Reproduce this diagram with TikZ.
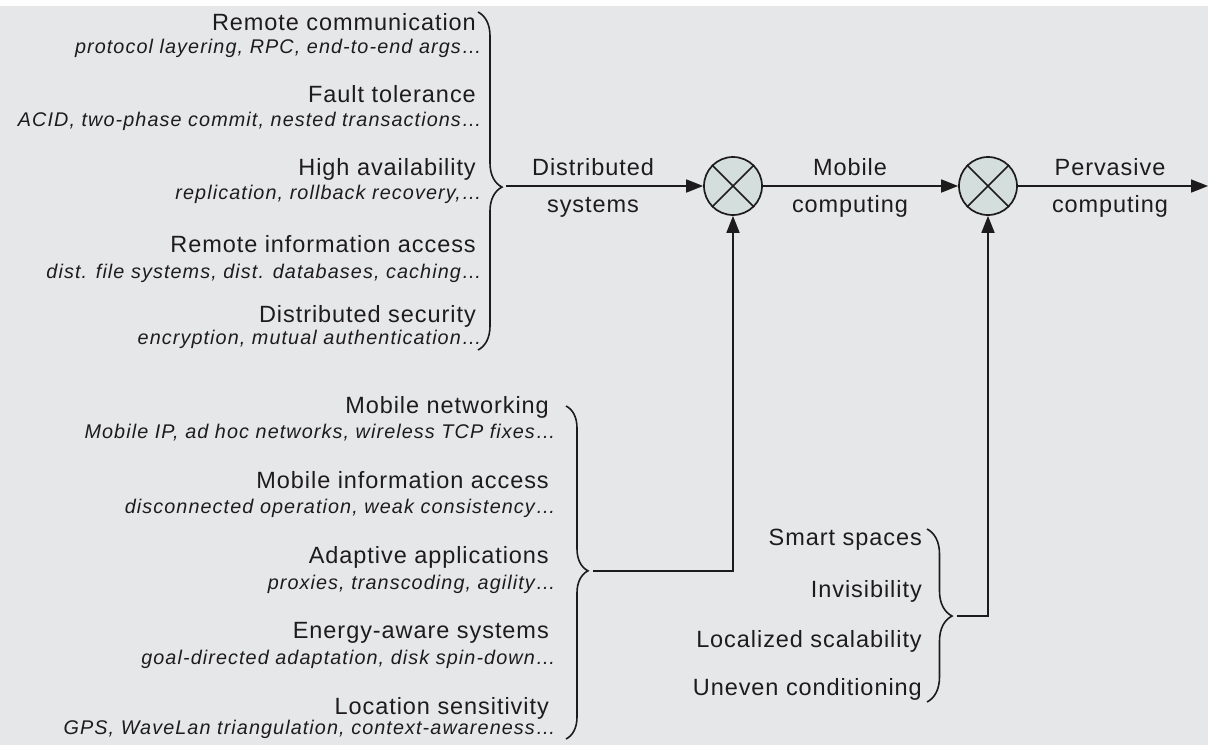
\documentclass[tikz,border=0pt]{standalone}
\usepackage{fontspec}
\setmainfont{Liberation Sans}[LetterSpace=4]
\newfontfamily\subfont{Liberation Sans}[LetterSpace=5.5]
\usetikzlibrary{arrows.meta,decorations.pathreplacing}
\definecolor{bg}{RGB}{230,231,233}
\definecolor{cf}{RGB}{212,222,221}
\definecolor{ink}{RGB}{30,27,28}
\begin{document}
\begin{tikzpicture}[x=1pt,y=-1pt,
  title/.style={anchor=base east,inner sep=0pt,font=\fontsize{23.5}{28}\selectfont,text=ink},
  sub/.style={anchor=base east,inner sep=0pt,font=\fontsize{19.8}{23}\selectfont\subfont\itshape,text=ink},
  lab/.style={anchor=base,inner sep=0pt,font=\fontsize{23.5}{28}\selectfont,text=ink},
  conn/.style={draw=ink,line width=1.7pt},
  arr/.style={conn,-{Triangle[length=17pt,width=13pt]}},
  mix/.style={circle,draw=ink,line width=1.7pt,fill=cf,minimum size=58pt,inner sep=0pt},
  bracestyle/.style={draw=ink,line width=1.6pt,decorate}
]
\useasboundingbox (0,0) rectangle (1208,745);
\fill[white] (0,0) rectangle (1208,6);
\fill[bg] (0,6) rectangle (1208,745);

% top group
\node[title] (t1) at (476,30) {Remote communication};
\node[sub]   (s1) at (482,53) {protocol layering, RPC, end-to-end args\ldots};
\node[title] (t2) at (476,102) {Fault tolerance};
\node[sub]   (s2) at (482,126) {ACID, two-phase commit, nested transactions\ldots};
\node[title] (t3) at (476,175) {High availability};
\node[sub]   (s3) at (482,199) {replication, rollback recovery,\ldots};
\node[title] (t4) at (476,252) {Remote information access};
\node[sub]   (s4) at (482,278) {dist. file systems, dist. databases, caching\ldots};
\node[title] (t5) at (476,322) {Distributed security};
\node[sub]   (s5) at (482,344) {encryption, mutual authentication\ldots};
\draw[bracestyle,decoration={brace,amplitude=24pt,aspect=0.518}] (478,12) -- (478,350);
\coordinate (b1) at (506,186);

% bottom group
\node[title] (u1) at (549,413) {Mobile networking};
\node[sub]   (v1) at (556,438) {Mobile IP, ad hoc networks, wireless TCP fixes\ldots};
\node[title] (u2) at (549,488) {Mobile information access};
\node[sub]   (v2) at (556,513) {disconnected operation, weak consistency\ldots};
\node[title] (u3) at (549,563) {Adaptive applications};
\node[sub]   (v3) at (556,589) {proxies, transcoding, agility\ldots};
\node[title] (u4) at (549,638) {Energy-aware systems};
\node[sub]   (v4) at (556,664) {goal-directed adaptation, disk spin-down\ldots};
\node[title] (u5) at (549,714) {Location sensitivity};
\node[sub]   (v5) at (556,734) {GPS, WaveLan triangulation, context-awareness\ldots};
\draw[bracestyle,decoration={brace,amplitude=22pt,aspect=0.495}] (566,406) -- (566,739);
\coordinate (b2) at (593,571);

% right group
\node[title] (r1) at (922,545) {Smart spaces};
\node[title] (r2) at (922,597) {Invisibility};
\node[title] (r3) at (922,647) {Localized scalability};
\node[title] (r4) at (922,695) {Uneven conditioning};
\draw[bracestyle,decoration={brace,amplitude=25pt,aspect=0.503}] (927,529) -- (927,702);
\coordinate (b3) at (957,616);

% mixers
\node[mix] (c1) at (733,186) {};
\node[mix] (c2) at (988,186) {};
\foreach \c in {c1,c2}{
  \draw[conn] (\c.north west) -- (\c.south east);
  \draw[conn] (\c.north east) -- (\c.south west);
}
\coordinate (out) at (1208,186);

\draw[arr] (b1) -- (c1);
\draw[arr] (c1) -- (c2);
\draw[arr] (c2) -- (out);
\draw[arr] (b2) -| (c1);
\draw[arr] (b3) -| (c2);

\node[lab] (l1a) at (593,175) {Distributed};
\node[lab] (l1b) at (593,212) {systems};
\node[lab] (l2a) at (850,175) {Mobile};
\node[lab] (l2b) at (850,212) {computing};
\node[lab] (l3a) at (1110,175) {Pervasive};
\node[lab] (l3b) at (1110,212) {computing};
\end{tikzpicture}
\end{document}
